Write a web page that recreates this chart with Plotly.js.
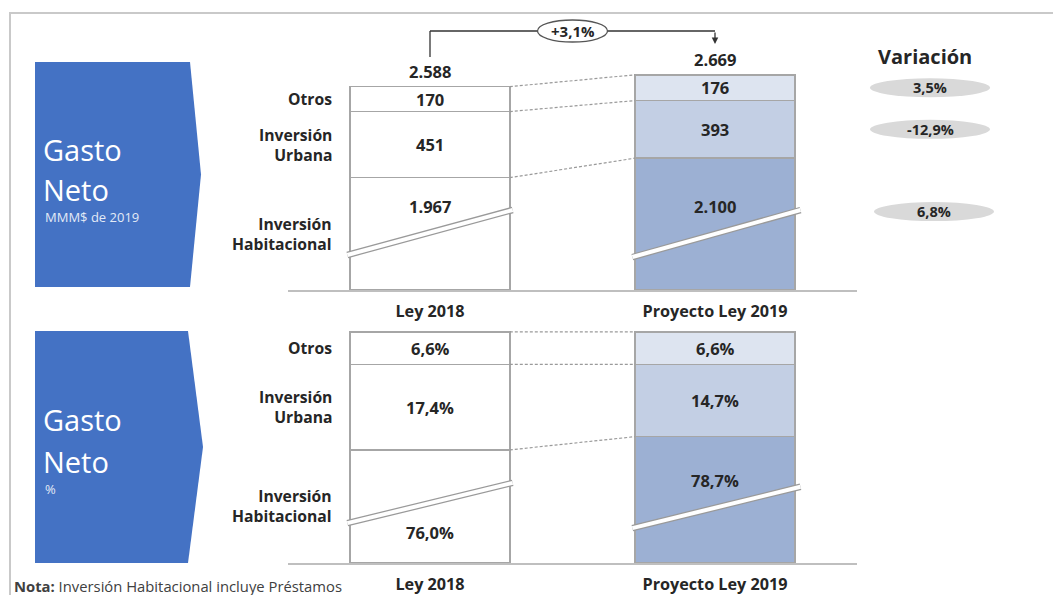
<!DOCTYPE html>
<html><head><meta charset="utf-8">
<script src="https://cdn.plot.ly/plotly-3.0.1.min.js"></script>
<style>html,body{margin:0;padding:0;background:#fff;}#chart{width:1053px;height:595px;}</style>
</head><body><div id="chart"></div>
<script>
// ---------------- DATA ----------------
const categories = ['Ley 2018', 'Proyecto Ley 2019'];
const rowLabels = ['Otros', 'Inversión<br>Urbana', 'Inversión<br>Habitacional'];
const gastoHab = [1967, 2100];
const gastoUrb = [451, 393];
const gastoOtr = [170, 176];
const gastoTotal = [2588, 2669];
const pctHab = [76.0, 78.7];
const pctUrb = [17.4, 14.7];
const pctOtr = [6.6, 6.6];
const variacion = ['3,5%', '-12,9%', '6,8%'];
const variacionTotal = '+3,1%';

// --------------- HELPERS ---------------
const W = 1053, H = 595;
const px = x => x / W;
const py = y => 1 - y / H;
const fmtMM = v => String(v).replace(/\B(?=(\d{3})+(?!\d))/g, '.');
const fmtPct = v => v.toFixed(1).replace('.', ',') + '%';
const FONT = '"Open Sans", Lato, sans-serif';
const DARK = '#262626';
const GRID = '#a6a6a6';
const BOLD = (size) => ({family: FONT, size: size, color: DARK, weight: 'bold'});

// axis breaks (portion of the Habitacional bar hidden by the break)
const BREAK_MM = 1200, BREAK_PCT = 53;

const topR = 1570, botR = 48.4;
const topPxPer = 230 / topR, botPxPer = 238 / botR;

const colHab = ['#ffffff', '#9cb0d3'];
const colUrb = ['#ffffff', '#c3cfe4'];
const colOtr = ['#ffffff', '#dde4f0'];

function barTrace(vals, colors, xa, ya) {
  return {type: 'bar', x: categories, y: vals, xaxis: xa, yaxis: ya, width: 0.56,
    marker: {color: colors, line: {color: GRID, width: 1.5}}, hoverinfo: 'skip'};
}

const habTop = gastoHab.map(v => v - BREAK_MM);
const habBot = pctHab.map(v => v - BREAK_PCT);

const data = [
  barTrace(habTop, colHab, 'x', 'y'),
  barTrace(gastoUrb, colUrb, 'x', 'y'),
  barTrace(gastoOtr, colOtr, 'x', 'y'),
  barTrace(habBot, colHab, 'x2', 'y2'),
  barTrace(pctUrb, colUrb, 'x2', 'y2'),
  barTrace(pctOtr, colOtr, 'x2', 'y2')
];

const shapes = [];
const annotations = [];

// outer frame
shapes.push({type: 'rect', xref: 'paper', yref: 'paper', x0: px(10), x1: 1.02, y0: -0.05, y1: py(13),
  line: {color: '#c9c9c9', width: 2}, fillcolor: 'rgba(0,0,0,0)', layer: 'below'});

// chevrons
function chevron(x0, x1, tip, y0, y1) {
  const ym = (y0 + y1) / 2;
  return {type: 'path', xref: 'paper', yref: 'paper', layer: 'below',
    path: `M ${px(x0)},${py(y0)} L ${px(x1)},${py(y0)} L ${px(tip)},${py(ym)} L ${px(x1)},${py(y1)} L ${px(x0)},${py(y1)} Z`,
    fillcolor: '#4472c4', line: {width: 0}};
}
shapes.push(chevron(35, 190, 201, 62, 287));
shapes.push(chevron(35, 188, 203, 331, 563));

function txt(x, y, text, font, opts) {
  return Object.assign({xref: 'paper', yref: 'paper', x: px(x), y: py(y), text: text, showarrow: false,
    xanchor: 'left', yanchor: 'middle', font: font}, opts || {});
}
const bigW = {family: '"Open Sans", sans-serif', size: 29, color: '#ffffff'};
const smallW = {family: '"Open Sans", sans-serif', size: 13, color: '#e3eaf6'};
annotations.push(txt(41, 149, 'Gasto', bigW));
annotations.push(txt(41, 189, 'Neto', bigW));
annotations.push(txt(43, 217, 'MMM$ de 2019', smallW));
annotations.push(txt(41, 419, 'Gasto', bigW));
annotations.push(txt(41, 461, 'Neto', bigW));
annotations.push(txt(43, 489, '%', smallW));

// note
annotations.push(txt(12, 586, '<b>Nota:</b> Inversión Habitacional incluye Préstamos',
  {family: FONT, size: 14.8, color: '#404040'}));

// panel builder
function panel(xr, yr, hab, urb, otr, brk, fmt, habLabelY, breaks) {
  const half = 0.28;
  const cum = [0, 1].map(i => {
    const h = hab[i] - brk;
    return [h, h + urb[i], h + urb[i] + otr[i]];
  });
  // dashed connectors
  for (let k = 0; k < 3; k++) {
    shapes.push({type: 'line', xref: xr, yref: yr, x0: half, x1: 1 - half, y0: cum[0][k], y1: cum[1][k],
      line: {color: '#9a9a9a', width: 1.2, dash: '3px,2px'}});
  }
  // segment labels
  for (let i = 0; i < 2; i++) {
    annotations.push({xref: xr, yref: yr, x: i, y: (cum[i][0] + cum[i][1]) / 2, text: fmt(urb[i]),
      showarrow: false, xanchor: 'center', yanchor: 'middle', font: BOLD(16.5)});
    annotations.push({xref: xr, yref: yr, x: i, y: (cum[i][1] + cum[i][2]) / 2, text: fmt(otr[i]),
      showarrow: false, xanchor: 'center', yanchor: 'middle', font: BOLD(16.5)});
    annotations.push({xref: xr, yref: yr, x: i, y: habLabelY[i], text: fmt(hab[i]),
      showarrow: false, xanchor: 'center', yanchor: 'middle', font: BOLD(16.5)});
  }
  // row labels, centred on the Ley 2018 segments
  const mids = [(cum[0][1] + cum[0][2]) / 2, (cum[0][0] + cum[0][1]) / 2, cum[0][0] / 2];
  rowLabels.forEach((t, k) => {
    annotations.push({xref: 'paper', yref: yr, x: px(334), y: mids[k], text: t, showarrow: false,
      xanchor: 'right', yanchor: 'middle', align: 'right', font: BOLD(15.7)});
  });
  // break lines
  breaks.forEach(b => {
    shapes.push({type: 'line', xref: xr, yref: yr, x0: b[0], x1: b[1], y0: b[2], y1: b[3],
      line: {color: '#9a9a9a', width: 6.5}});
    shapes.push({type: 'line', xref: xr, yref: yr, x0: b[0], x1: b[1], y0: b[2], y1: b[3],
      line: {color: '#ffffff', width: 4}});
  });
  return cum;
}

const cumTop = panel('x', 'y', gastoHab, gastoUrb, gastoOtr, BREAK_MM, fmtMM, [567, 567],
  [[-0.29, 0.29, 239, 546], [0.71, 1.30, 225, 546]]);
const cumBot = panel('x2', 'y2', pctHab, pctUrb, pctOtr, BREAK_PCT, fmtPct, [6.3, 16.7],
  [[-0.29, 0.29, 8.1, 16.3], [0.71, 1.30, 7.1, 15.5]]);

// totals above top bars
gastoTotal.forEach((t, i) => {
  annotations.push({xref: 'x', yref: 'y', x: i, y: t - BREAK_MM, text: fmtMM(t), showarrow: false,
    xanchor: 'center', yanchor: 'bottom', yshift: 2, font: BOLD(16.5)});
});

// bracket with +3,1%
shapes.push({type: 'line', xref: 'x', yref: 'paper', x0: 0, x1: 0, y0: py(57), y1: py(31), line: {color: '#333', width: 1.3}});
shapes.push({type: 'line', xref: 'x', yref: 'paper', x0: 0, x1: 1, y0: py(31), y1: py(31), line: {color: '#333', width: 1.3}});
annotations.push({xref: 'x', yref: 'paper', x: 1, y: py(44), text: '', showarrow: true, ax: 0, ay: -13,
  arrowhead: 2, arrowsize: 1, arrowwidth: 1.3, arrowcolor: '#333'});
shapes.push({type: 'circle', xref: 'x', yref: 'paper', x0: 0.5 - 35 / 285, x1: 0.5 + 35 / 285, y0: py(42), y1: py(20),
  fillcolor: '#ffffff', line: {color: '#555', width: 1.3}});
annotations.push({xref: 'x', yref: 'paper', x: 0.5, y: py(31), text: variacionTotal, showarrow: false,
  xanchor: 'center', yanchor: 'middle', font: BOLD(15)});

// Variación column
annotations.push({xref: 'paper', yref: 'paper', x: px(925), y: py(57), text: 'Variación', showarrow: false,
  xanchor: 'center', yanchor: 'middle', font: BOLD(20)});
const varY = [(cumTop[1][1] + cumTop[1][2]) / 2, (cumTop[1][0] + cumTop[1][1]) / 2, 535];
const varX = [930, 930, 934];
variacion.forEach((v, k) => {
  const hh = 9.5 / topPxPer;
  shapes.push({type: 'circle', xref: 'paper', yref: 'y', x0: px(varX[k] - 60), x1: px(varX[k] + 60),
    y0: varY[k] - hh, y1: varY[k] + hh, fillcolor: '#d9d9d9', line: {width: 0}, layer: 'below'});
  annotations.push({xref: 'paper', yref: 'y', x: px(varX[k]), y: varY[k], text: v, showarrow: false,
    xanchor: 'center', yanchor: 'middle', font: BOLD(14.5)});
});

const xRange = [-(430 - 288) / 285, 1 + (857 - 715) / 285];
function xAxis(anchor) {
  return {domain: [px(288), px(857)], anchor: anchor, type: 'category', range: xRange,
    showline: true, linecolor: '#bfbfbf', linewidth: 2, ticks: '', showgrid: false, zeroline: false,
    ticklabelstandoff: 6, tickfont: BOLD(16.2), fixedrange: true};
}
function yAxis(anchor, dom, rng) {
  return {domain: dom, anchor: anchor, range: rng, showline: false, showgrid: false, zeroline: false,
    showticklabels: false, ticks: '', fixedrange: true};
}

const layout = {
  width: W, height: H, margin: {l: 0, r: 0, t: 0, b: 0},
  paper_bgcolor: '#ffffff', plot_bgcolor: 'rgba(0,0,0,0)',
  showlegend: false, barmode: 'stack',
  xaxis: xAxis('y'), yaxis: yAxis('x', [py(290), py(60)], [0, topR]),
  xaxis2: xAxis('y2'), yaxis2: yAxis('x2', [py(563), py(325)], [0, botR]),
  shapes: shapes, annotations: annotations
};

Plotly.newPlot('chart', data, layout, {displayModeBar: false, staticPlot: true});
</script>
</body></html>
